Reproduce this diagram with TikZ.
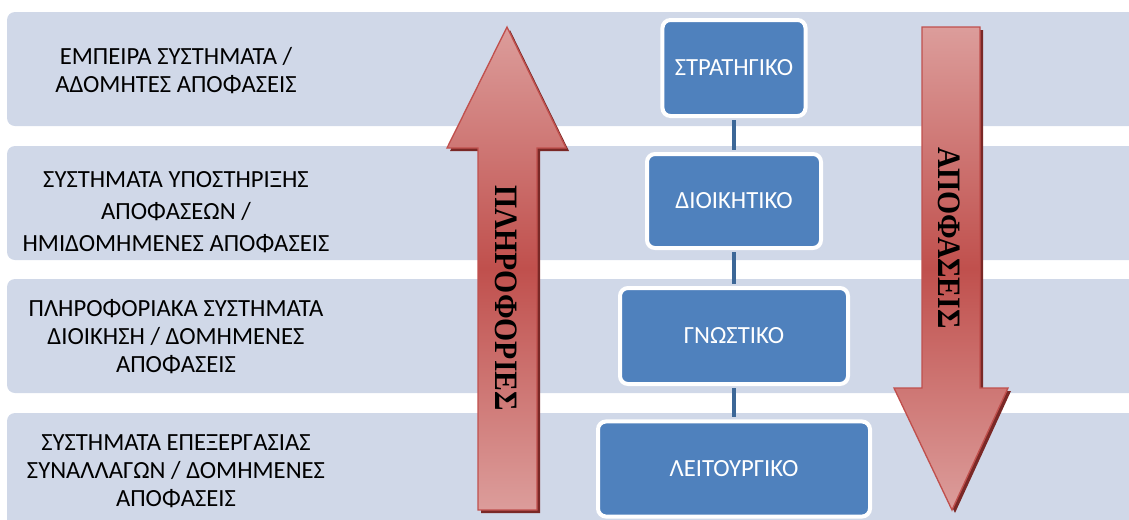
\documentclass[tikz,border=0pt]{standalone}
\usepackage{fontspec}
\setmainfont{Carlito}
\newfontfamily\arrowfont{Liberation Serif}
\usetikzlibrary{positioning}

\definecolor{bandgray}{HTML}{D0D8E8}
\definecolor{boxblue}{HTML}{4F81BD}
\definecolor{linkblue}{HTML}{3C6797}
\definecolor{arrowred}{HTML}{C0504D}
\definecolor{arrowpink}{HTML}{DC9D9B}
\definecolor{arrowshadow}{HTML}{7A2826}

\tikzset{
  band/.style={fill=bandgray, draw=none, rounded corners=6pt},
  bandtext/.style={align=center, inner sep=0pt, font=\fontsize{18.5}{21}\selectfont},
  level/.style={draw=white, line width=3pt, fill=boxblue, rounded corners=6pt,
    text=white, inner sep=0pt, font=\fontsize{18.5}{20}\selectfont},
  link/.style={draw=linkblue, line width=3.5pt, shorten <=1.5pt, shorten >=1.5pt},
  flowarrow/.style={draw=arrowred, line width=1pt, top color=arrowpink,
    bottom color=arrowpink, middle color=arrowred},
  arrowtext/.style={inner sep=0pt, rotate=-90, xscale=0.91,
    font=\arrowfont\bfseries\fontsize{24.5}{24.5}\selectfont}
}

\begin{document}
\begin{tikzpicture}[x=0.75pt,y=0.75pt,yscale=-1,xscale=1]
\useasboundingbox (0,0) rectangle (1129,519);
\clip (0,0) rectangle (1129,519);

%Bands
\fill[band] (7,12) rectangle (1160,126);
\fill[band] (7,146) rectangle (1160,260);
\fill[band] (7,279) rectangle (1160,393);
\fill[band] (7,413) rectangle (1160,535);

% Text Node
\node[bandtext] (empeira) at (176,71) {ΕΜΠΕΙΡΑ ΣΥΣΤΗΜΑΤΑ /\\ΑΔΟΜΗΤΕΣ ΑΠΟΦΑΣΕΙΣ};
% Text Node
\node[bandtext, font=\fontsize{18.5}{24}\selectfont] (ypostirixi) at (176,212) {ΣΥΣΤΗΜΑΤΑ ΥΠΟΣΤΗΡΙΞΗΣ\\ΑΠΟΦΑΣΕΩΝ /\\ΗΜΙΔΟΜΗΜΕΝΕΣ ΑΠΟΦΑΣΕΙΣ};
% Text Node
\node[bandtext] (pliroforiaka) at (176,337) {ΠΛΗΡΟΦΟΡΙΑΚΑ ΣΥΣΤΗΜΑΤΑ\\ΔΙΟΙΚΗΣΗ / ΔΟΜΗΜΕΝΕΣ\\ΑΠΟΦΑΣΕΙΣ};
% Text Node
\node[bandtext] (synallages) at (176,471) {ΣΥΣΤΗΜΑΤΑ ΕΠΕΞΕΡΓΑΣΙΑΣ\\ΣΥΝΑΛΛΑΓΩΝ / ΔΟΜΗΜΕΝΕΣ\\ΑΠΟΦΑΣΕΙΣ};

%Shape: Up Arrow
\fill[arrowshadow] (510,30) -- (569,151) -- (540,151) -- (540,513) -- (481,513) -- (481,151) -- (450,151) -- cycle;
\path[flowarrow] (507,27) -- (566,148) -- (537,148) -- (537,510) -- (478,510) -- (478,148) -- (447,148) -- cycle;
%Shape: Down Arrow
\fill[arrowshadow] (925,30) -- (983,30) -- (983,391) -- (1011,391) -- (955,513) -- (897,391) -- (925,391) -- cycle;
\path[flowarrow] (922,27) -- (980,27) -- (980,388) -- (1008,388) -- (952,510) -- (894,388) -- (922,388) -- cycle;

% Text Node
\node[arrowtext] (plirofories) at (506,298) {ΠΛΗΡΟΦΟΡΙΕΣ};
% Text Node
\node[arrowtext] (apofaseis) at (949,238) {ΑΠΟΦΑΣΕΙΣ};

%Levels
\node[level, minimum width=107.3pt, minimum height=72pt] (stratigiko) at (734,68) {ΣΤΡΑΤΗΓΙΚΟ};
\node[level, minimum width=130.5pt, minimum height=70.5pt] (dioikitiko) at (734,201) {ΔΙΟΙΚΗΤΙΚΟ};
\node[level, minimum width=171pt, minimum height=72pt] (gnostiko) at (734,336) {ΓΝΩΣΤΙΚΟ};
\node[level, minimum width=204pt, minimum height=71.3pt] (leitourgiko) at (734,469) {ΛΕΙΤΟΥΡΓΙΚΟ};

%Straight Lines
\draw[link] (stratigiko) -- (dioikitiko);
\draw[link] (dioikitiko) -- (gnostiko);
\draw[link] (gnostiko) -- (leitourgiko);

\end{tikzpicture}
\end{document}
